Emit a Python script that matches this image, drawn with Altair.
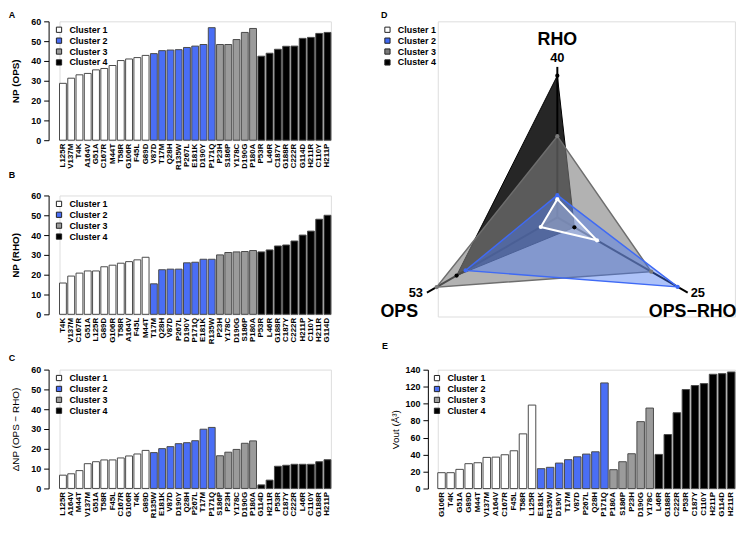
import altair as alt
import pandas as pd

FONT = "Liberation Sans"

clusters = ["Cluster 1", "Cluster 2", "Cluster 3", "Cluster 4"]
bar_colors = ["#ffffff", "#4a6ef5", "#9b9b9b", "#000000"]
point_colors = ["#ffffff", "#3f6af5", "#7a7a7a", "#000000"]
cluster_sizes = [11, 8, 5, 9]

# ---- Panel A: NP (OPS)
a_labels = ["L125R", "V137M", "T4K", "A164V", "G51A", "C167R", "M44T", "T58R", "G106R", "F45L", "G89D",
            "V87D", "T17M", "Q28H", "R135W", "P267L", "E181K", "D190Y", "P171Q",
            "P23H", "S186P", "Y178C", "D190G", "P180A",
            "P53R", "L46R", "C187Y", "G188R", "C222R", "G114D", "H211R", "C110Y", "H211P"]
a_values = [28.7, 31.3, 33.0, 33.7, 35.5, 36.2, 37.7, 40.2, 41.0, 41.7, 42.8,
            43.7, 45.2, 45.5, 45.7, 46.8, 47.5, 48.3, 56.8,
            48.3, 48.3, 50.8, 54.4, 56.4,
            42.4, 43.9, 45.9, 47.4, 47.5, 51.4, 51.9, 53.9, 54.4]

# ---- Panel B: NP (RHO)
b_labels = ["T4K", "V137M", "C167R", "G51A", "L125R", "G89D", "G106R", "T58R", "A164V", "F45L", "M44T",
            "T17M", "Q28H", "V87D", "P267L", "D190Y", "P171Q", "E181K", "R135W",
            "P23H", "Y178C", "D190G", "S186P", "P180A",
            "P53R", "L46R", "G188R", "C187Y", "C222R", "H211P", "C110Y", "H211R", "G114D"]
b_values = [15.8, 19.3, 20.8, 21.9, 21.9, 24.0, 24.8, 25.8, 26.6, 27.5, 28.8,
            15.4, 22.5, 22.8, 22.8, 26.0, 26.3, 27.8, 27.8,
            30.0, 31.2, 31.5, 31.7, 32.2,
            31.5, 32.5, 34.5, 35.0, 37.0, 40.0, 42.0, 48.0, 50.0]

# ---- Panel C: dNP (OPS - RHO)
c_labels = ["L125R", "A164V", "M44T", "V137M", "G51A", "T58R", "F45L", "C167R", "G106R", "T4K", "G89D",
            "R135W", "E181K", "V87D", "D190Y", "Q28H", "P267L", "T17M", "P171Q",
            "S186P", "P23H", "Y178C", "D190G", "P180A",
            "G114D", "H211R", "P53R", "C187Y", "C222R", "L46R", "C110Y", "G188R", "H211P"]
c_values = [6.7, 7.4, 9.0, 12.5, 13.5, 14.4, 14.4, 15.4, 16.4, 17.4, 19.2,
            18.1, 20.1, 21.1, 22.6, 23.1, 24.1, 29.9, 30.8,
            16.5, 18.3, 19.7, 22.8, 24.0,
            1.8, 4.2, 11.2, 11.7, 12.2, 12.2, 12.2, 13.5, 14.5]

# ---- Panel E: Vout
e_labels = ["G106R", "T4K", "G51A", "G89D", "M44T", "V137M", "A164V", "C167R", "F45L", "T58R", "L125R",
            "E181K", "R135W", "D190Y", "T17M", "V87D", "P267L", "Q28H", "P171Q",
            "P180A", "S186P", "P23H", "D190G", "Y178C",
            "L46R", "G188R", "C222R", "P53R", "C187Y", "C110Y", "H211P", "G114D", "H211R"]
e_values = [18.7, 18.7, 22.6, 29.3, 30.4, 36.7, 37.0, 39.8, 44.5, 64.4, 98.3,
            23.4, 25.0, 30.0, 34.0, 37.4, 40.6, 43.3, 124.4,
            22.2, 31.6, 41.0, 78.8, 94.8,
            40.2, 63.6, 89.3, 116.6, 121.3, 123.6, 134.6, 135.3, 137.3]

# ---- Panel D: radar (cluster means)
radar_axes = ["RHO", "OPS\u2212RHO", "OPS"]
radar_max = [40, 25, 53]
radar_lo = [21.1, 8.2, 34.1]
radar_rho = [23.4, 23.9, 31.3, 38.9]
radar_diff = [13.3, 23.7, 20.3, 10.4]
radar_ops = [36.5, 47.4, 51.6, 48.7]
R = 152


def cluster_column():
    out = []
    for name, n in zip(clusters, cluster_sizes):
        out += [name] * n
    return out


def legend(lx, ly, colors_stroke="#222"):
    return alt.Legend(title=None, orient="none", legendX=lx, legendY=ly,
                      symbolType="square", symbolSize=28, symbolStrokeColor=colors_stroke,
                      symbolStrokeWidth=1, labelFont=FONT, labelFontSize=9,
                      labelFontWeight="bold", labelColor="black", labelOffset=6,
                      rowPadding=0, padding=0)


def bar_panel(labels, values, letter, ytitle, title_weight, ymax, ystep, width,
              axis_offset, legend_x, legend_y, t_dx, t_offset, title_pad):
    df = pd.DataFrame({"mut": labels, "val": values, "cluster": cluster_column()})
    return alt.Chart(df).mark_bar(stroke="#4a4a4a", strokeWidth=1).encode(
        x=alt.X("mut:N", sort=labels,
                scale=alt.Scale(paddingInner=0.17, paddingOuter=0.0),
                axis=alt.Axis(title=None, labelAngle=-90, labelFontSize=8, labelFontWeight="bold",
                              labelFont=FONT, labelColor="black", ticks=False, domain=False,
                              labelPadding=3, labelOverlap=False)),
        y=alt.Y("val:Q", scale=alt.Scale(domain=[0, ymax], nice=False, zero=True),
                axis=alt.Axis(title=ytitle, values=list(range(0, ymax + 1, ystep)), offset=axis_offset,
                              tickSize=5, tickColor="black", domainColor="black", grid=False,
                              labelFontSize=9, labelFontWeight="bold", labelFont=FONT,
                              labelColor="black", labelPadding=3, titleFont=FONT, titleFontSize=10,
                              titleFontWeight=title_weight, titleColor="black",
                              titlePadding=title_pad)),
        fill=alt.Fill("cluster:N", scale=alt.Scale(domain=clusters, range=bar_colors),
                      legend=legend(legend_x, legend_y)),
    ).properties(width=width, height=120,
                 title=alt.TitleParams(letter, anchor="start", frame="group", dx=t_dx,
                                       offset=t_offset, fontSize=9, fontWeight="bold",
                                       font=FONT, color="black"))


A = bar_panel(a_labels, a_values, "A", "NP (OPS)", "bold", 60, 10, 274, 11, -5, 4, -51.3, -3, 10)
B = bar_panel(b_labels, b_values, "B", "NP (RHO)", "bold", 60, 10, 274, 11, -5, 4, -51.3, 12, 10)
C = bar_panel(c_labels, c_values, "C", "\u0394NP (OPS \u2212 RHO)", "normal", 60, 10, 274, 11, -5, 4, -51.3, 3, 10)
E = bar_panel(e_labels, e_values, "E", "Vout (\u00c5\u00b3)", "normal", 140, 20, 300, 10, -5.3, 4, -56.3, 15, 5)

# ---- radar
rows = []
for ci, c in enumerate(clusters):
    for k in range(4):
        a = k % 3
        vals = [radar_rho, radar_diff, radar_ops][a]
        rows.append({"cluster": c, "k": k, "a": a, "value": vals[ci],
                     "lo": radar_lo[a], "hi": radar_max[a]})
rdf = pd.DataFrame(rows)
axis_df = pd.DataFrame({"a": [0, 1, 2], "name": radar_axes, "maxlab": [str(v) for v in radar_max]})

D_H = 298
xs = alt.Scale(domain=[-120.7, 179.3], nice=False, zero=False)
ys = alt.Scale(domain=[198 - D_H, 198], nice=False, zero=False)

axis_base = alt.Chart(axis_df).transform_calculate(
    tx=f"{R}*sin(datum.a*2*PI/3)", ty=f"{R}*cos(datum.a*2*PI/3)", cx="0", cy="0")
axes_layer = axis_base.mark_rule(color="black", strokeWidth=2).encode(
    x=alt.X("cx:Q", scale=xs, axis=None), y=alt.Y("cy:Q", scale=ys, axis=None),
    x2="tx:Q", y2="ty:Q")

rbase = alt.Chart(rdf).transform_calculate(
    r=f"{R}*(datum.value-datum.lo)/(datum.hi-datum.lo)"
).transform_calculate(
    px="datum.r*sin(datum.a*2*PI/3)", py="datum.r*cos(datum.a*2*PI/3)")

poly_styles = [
    ("Cluster 4", "#000000", 0.85, "#000000", 1.0),
    ("Cluster 3", "#7f7f7f", 0.6, "#6e6e6e", 1.5),
    ("Cluster 2", "#4a78f0", 0.45, "#3f6af5", 1.5),
    ("Cluster 1", "#ffffff", 0.25, "#ffffff", 2.0),
]
layers = [axes_layer]
for c, fc, fo, sc, sw in poly_styles:
    layers.append(rbase.transform_filter(alt.datum.cluster == c).mark_line(
        fill=fc, fillOpacity=fo, stroke=sc, strokeWidth=sw).encode(
        x=alt.X("px:Q", scale=xs, axis=None), y=alt.Y("py:Q", scale=ys, axis=None),
        order=alt.Order("k:Q")))

layers.append(rbase.transform_filter("datum.k < 3").mark_circle(size=18, opacity=1).encode(
    x=alt.X("px:Q", scale=xs, axis=None), y=alt.Y("py:Q", scale=ys, axis=None),
    fill=alt.Fill("cluster:N", scale=alt.Scale(domain=clusters, range=point_colors),
                  legend=legend(-55.3, 4))))

text_specs = [
    (0, "name", 0, -27, "center", 18),
    (0, "maxlab", 0, -9, "center", 13),
    (1, "name", 5, 19, "center", 18),
    (1, "maxlab", 3, 0, "left", 13),
    (2, "name", -28, 19, "center", 18),
    (2, "maxlab", -4, 0, "right", 13),
]
for a, field, dx, dy, align, fs in text_specs:
    layers.append(axis_base.transform_filter(f"datum.a == {a}").mark_text(
        dx=dx, dy=dy, align=align, baseline="middle", fontSize=fs, fontWeight="bold",
        font=FONT, color="black").encode(
        x=alt.X("tx:Q", scale=xs, axis=None), y=alt.Y("ty:Q", scale=ys, axis=None),
        text=f"{field}:N"))

D = alt.layer(*layers).properties(
    width=300, height=D_H,
    title=alt.TitleParams("D", anchor="start", frame="group", dx=-57.3, offset=1.5,
                          fontSize=9, fontWeight="bold", font=FONT, color="black"))

left = alt.vconcat(A, B, C, spacing=55.8, bounds="flush").resolve_scale(
    fill="independent", x="independent", y="independent").resolve_legend(fill="independent")
right = alt.vconcat(D, E, spacing=53.7, bounds="flush").resolve_scale(
    fill="independent", x="independent", y="independent").resolve_legend(fill="independent")

chart = alt.hconcat(left, right, spacing=47.9, bounds="full").resolve_scale(
    fill="independent", x="independent", y="independent").resolve_legend(
    fill="independent").properties(padding=0).configure_view(stroke=None).configure(font=FONT)

chart.save("out.html", embed_options={"renderer": "svg", "actions": False})
